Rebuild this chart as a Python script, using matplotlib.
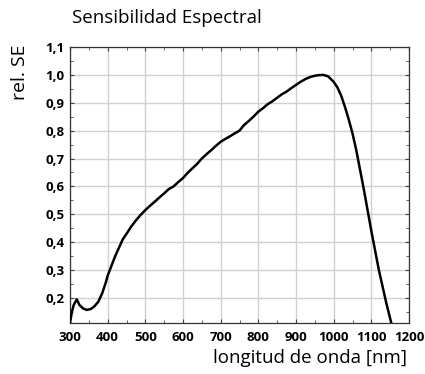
import matplotlib
matplotlib.use("Agg")
import matplotlib.pyplot as plt
from matplotlib.ticker import MultipleLocator, FuncFormatter

wavelength = [300, 305, 310, 318, 325, 335, 344, 355, 365, 375, 385, 395, 400, 410, 420, 430,
              440, 450, 462, 475, 487, 500, 512, 525, 537, 550, 562, 575, 587, 600, 612,
              625, 637, 650, 662, 675, 687, 700, 712, 725, 737, 750, 762, 775, 787, 800,
              812, 825, 837, 850, 862, 875, 887, 900, 912, 925, 937, 950, 960, 972, 985,
              1000, 1010, 1020, 1030, 1040, 1050, 1060, 1070, 1080, 1090, 1100, 1110,
              1120, 1130, 1140, 1153]
rel_se = [0.11, 0.15, 0.175, 0.195, 0.175, 0.162, 0.157, 0.16, 0.17, 0.186, 0.215, 0.255, 0.28,
          0.315, 0.35, 0.38, 0.41, 0.43, 0.455, 0.478, 0.497, 0.515, 0.53, 0.545, 0.56, 0.575,
          0.59, 0.60, 0.615, 0.63, 0.648, 0.665, 0.68, 0.70, 0.715, 0.73, 0.745, 0.76, 0.77,
          0.78, 0.79, 0.80, 0.82, 0.835, 0.85, 0.868, 0.88, 0.895, 0.905, 0.918, 0.93, 0.94,
          0.952, 0.964, 0.975, 0.985, 0.992, 0.997, 0.999, 1.0, 0.995, 0.975, 0.955, 0.925,
          0.885, 0.84, 0.79, 0.73, 0.66, 0.59, 0.515, 0.44, 0.37, 0.30, 0.24, 0.18, 0.11]

xticks = [300, 400, 500, 600, 700, 800, 900, 1000, 1100, 1200]
yticks = [0.2, 0.3, 0.4, 0.5, 0.6, 0.7, 0.8, 0.9, 1.0, 1.1]

title = "Sensibilidad Espectral"
ylabel = "rel. SE"
xlabel = "longitud de onda [nm]"

plt.rcParams['font.family'] = ['Open Sans', 'DejaVu Sans']

fig = plt.figure(figsize=(4.25, 3.74), dpi=100)
ax = fig.add_axes([70/425, 1-323/374, (409-70)/425, (323-47)/374])

ax.plot(wavelength, rel_se, color='black', lw=1.8, solid_capstyle='round', zorder=3)

ax.set_xlim(300, 1200)
ax.set_ylim(0.11, 1.1)
ax.set_xticks(xticks)
ax.set_yticks(yticks)
ax.xaxis.set_minor_locator(MultipleLocator(50))
ax.yaxis.set_minor_locator(MultipleLocator(0.05))
ax.yaxis.set_major_formatter(FuncFormatter(lambda v, p: f"{v:.1f}".replace('.', ',')))
ax.grid(True, which='major', color='#d0d0d0', lw=1.0, zorder=0)
ax.tick_params(which='both', direction='in', top=True, right=True, color='#444444')
ax.tick_params(which='major', length=3, width=0.8, labelsize=9.5)
ax.tick_params(axis='x', which='major', pad=6)
ax.tick_params(axis='y', which='major', pad=4)
ax.tick_params(which='minor', length=2, width=0.6)
for lab in ax.get_xticklabels() + ax.get_yticklabels():
    lab.set_fontweight('bold')
for s in ax.spines.values():
    s.set_color('#333333')
    s.set_linewidth(0.9)

fig.text(72/425, 1-18/374, title, fontsize=13.5, ha='left', va='center')
fig.text(20/425, 1-72/374, ylabel, fontsize=14, rotation=90, ha='center', va='center')
fig.text(407/425, 1-358/374, xlabel, fontsize=13.5, ha='right', va='center')

fig.savefig("out.png", dpi=100)
